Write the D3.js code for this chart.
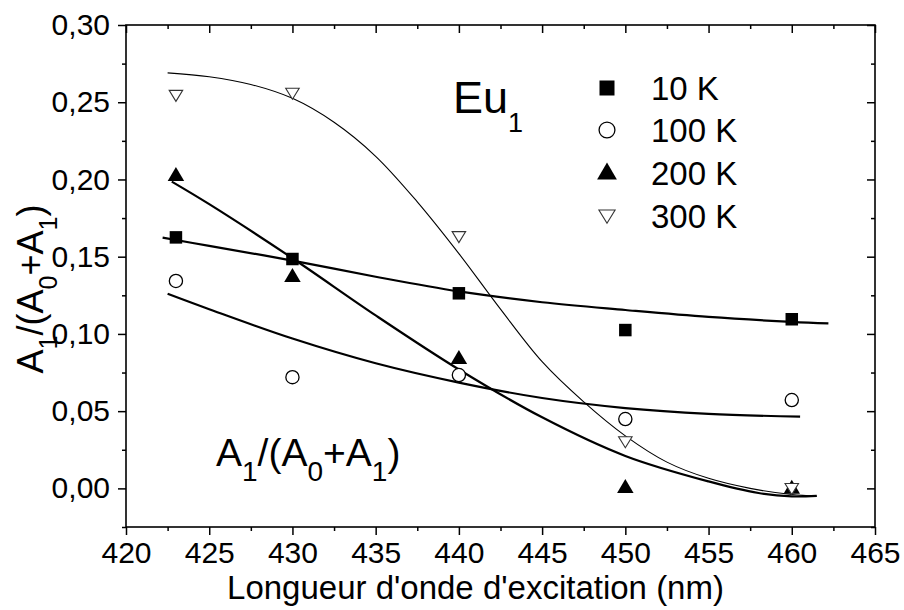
<!DOCTYPE html>
<html><head><meta charset="utf-8">
<script src="https://cdn.jsdelivr.net/npm/d3@7"></script>
<style>
body{margin:0;background:#fff}
text{font-family:"Liberation Sans",Arial,Helvetica,sans-serif;fill:#000}
</style>
</head><body>
<svg id="c" width="904" height="610"></svg>
<script>
// ---- data ----
const wavelengths = [423, 430, 440, 450, 460];
const v10K  = [0.1625, 0.1485, 0.1263, 0.1025, 0.1095];
const v100K = [0.1343, 0.0720, 0.0734, 0.0449, 0.0572];
const v200K = [0.2025, 0.1370, 0.0840, 0.0005, 0.0000];
const v300K = [0.2545, 0.2558, 0.1630, 0.0302, 0.0000];

// fitted curves
const fit10K_x  = [422.2, 425, 430, 435, 440, 445, 450, 455, 460, 462.2];
const fit10K_y  = [0.1623, 0.157, 0.1475, 0.137, 0.1275, 0.1205, 0.1155, 0.111, 0.1078, 0.1068];
const fit100K_x = [422.5, 425, 430, 435, 440, 445, 450, 455, 460.5];
const fit100K_y = [0.126, 0.116, 0.097, 0.081, 0.0685, 0.0585, 0.052, 0.0483, 0.0464];
const fit200K_x = [422.75, 425, 430, 435, 440, 445, 450, 455, 458, 460, 461.5];
const fit200K_y = [0.1986, 0.184, 0.149, 0.112, 0.077, 0.046, 0.021, 0.0045, -0.003, -0.0052, -0.0048];
const fit300K_x = [422.5, 425, 427.5, 430, 432.5, 435, 437.5, 440, 442.5, 445, 447.5, 450, 452.5, 455, 457.5, 460, 461.5];
const fit300K_y = [0.269, 0.2665, 0.2615, 0.2525, 0.237, 0.215, 0.1855, 0.152, 0.116, 0.082, 0.056, 0.034, 0.017, 0.0065, 0.0, -0.004, -0.005];

const seriesNames = ["10 K", "100 K", "200 K", "300 K"];
const xTicks = [420, 425, 430, 435, 440, 445, 450, 455, 460, 465];
const xMinor = [422.5, 427.5, 432.5, 437.5, 442.5, 447.5, 452.5, 457.5, 462.5];
const yTicks = [0.00, 0.05, 0.10, 0.15, 0.20, 0.25, 0.30];
const yMinor = [-0.025, 0.025, 0.075, 0.125, 0.175, 0.225, 0.275];
const xTitle = "Longueur d'onde d'excitation (nm)";

// ---- drawing ----
const svg = d3.select("#c");
const L = 126, R = 875, T = 25, B = 527;
const x = d3.scaleLinear().domain([420, 465]).range([L, R]);
const y = d3.scaleLinear().domain([-0.025, 0.30]).range([B, T]);

const fmtY = d => d3.format(".2f")(d).replace(".", ",");

function styleAxis(g){
  g.attr("font-family", null).attr("font-size", null);
  g.select(".domain").remove();
  g.selectAll("line").attr("stroke","#000").attr("stroke-width",1.5);
  g.selectAll("text").style("font-size","30px").attr("fill","#000");
}
// bottom
svg.append("g").attr("transform",`translate(0,${B})`)
  .call(d3.axisBottom(x).tickValues(xTicks).tickSize(8).tickPadding(7).tickFormat(d=>d))
  .call(styleAxis);
svg.append("g").attr("transform",`translate(0,${B})`)
  .call(d3.axisBottom(x).tickValues(xMinor).tickSize(4).tickFormat(""))
  .call(styleAxis);
// top (inward)
svg.append("g").attr("transform",`translate(0,${T})`)
  .call(d3.axisTop(x).tickValues(xTicks).tickSize(-8).tickFormat(""))
  .call(styleAxis);
svg.append("g").attr("transform",`translate(0,${T})`)
  .call(d3.axisTop(x).tickValues(xMinor).tickSize(-4).tickFormat(""))
  .call(styleAxis);
// left
svg.append("g").attr("transform",`translate(${L},0)`)
  .call(d3.axisLeft(y).tickValues(yTicks).tickSize(8).tickPadding(8).tickFormat(fmtY))
  .call(styleAxis);
svg.append("g").attr("transform",`translate(${L},0)`)
  .call(d3.axisLeft(y).tickValues(yMinor).tickSize(4).tickFormat(""))
  .call(styleAxis);
// right (inward)
svg.append("g").attr("transform",`translate(${R},0)`)
  .call(d3.axisRight(y).tickValues(yTicks).tickSize(-8).tickFormat(""))
  .call(styleAxis);
svg.append("g").attr("transform",`translate(${R},0)`)
  .call(d3.axisRight(y).tickValues(yMinor).tickSize(-4).tickFormat(""))
  .call(styleAxis);

// frame
svg.append("rect").attr("x",L).attr("y",T).attr("width",R-L).attr("height",B-T)
  .attr("fill","none").attr("stroke","#000").attr("stroke-width",1.6);

// fit lines
const line = d3.line().x(d=>x(d[0])).y(d=>y(d[1])).curve(d3.curveCatmullRom.alpha(0.5));
const fits = [
  {xs:fit10K_x, ys:fit10K_y, w:2.2},
  {xs:fit100K_x, ys:fit100K_y, w:2.2},
  {xs:fit200K_x, ys:fit200K_y, w:2.2},
  {xs:fit300K_x, ys:fit300K_y, w:1.1}
];
fits.forEach(f=>{
  svg.append("path").datum(f.xs.map((v,i)=>[v,f.ys[i]]))
    .attr("d",line).attr("fill","none").attr("stroke","#000").attr("stroke-width",f.w);
});

// marker shapes
function marker(g, k, cx, cy, s){
  s = s || 1;
  if(k===0){
    const a = 12.5*s;
    g.append("rect").attr("x",cx-a/2).attr("y",cy-a/2).attr("width",a).attr("height",a).attr("fill","#000");
  } else if(k===1){
    g.append("circle").attr("cx",cx).attr("cy",cy).attr("r",6.6*s)
      .attr("fill","#fff").attr("stroke","#000").attr("stroke-width",1.3);
  } else if(k===2){
    const w = 16.5*s, h = 14*s;
    g.append("path").attr("d",`M${cx},${cy-h*0.62}L${cx+w/2},${cy+h*0.38}L${cx-w/2},${cy+h*0.38}Z`).attr("fill","#000");
  } else {
    const w = 13.5*s, h = 11*s;
    g.append("path").attr("d",`M${cx-w/2},${cy-h*0.45}L${cx+w/2},${cy-h*0.45}L${cx},${cy+h*0.55}Z`)
      .attr("fill","#fff").attr("stroke","#333").attr("stroke-width",1.1);
  }
}
const allSeries = [v10K, v100K, v200K, v300K];
const mg = svg.append("g");
allSeries.forEach((vals,k)=>{
  vals.forEach((v,i)=> marker(mg, k, x(wavelengths[i]), y(v)));
});

// legend
const lg = svg.append("g");
const legY = [88, 130, 173, 216];
seriesNames.forEach((n,k)=>{
  marker(lg, k, 607, legY[k], 1.2);
  lg.append("text").attr("x",651).attr("y",legY[k]).attr("dy","0.36em")
    .style("font-size","33px").text(n);
});

// annotations
const eu = svg.append("text").attr("x",453).attr("y",113).style("font-size","45px");
eu.append("tspan").text("Eu");
eu.append("tspan").attr("dy",19).style("font-size","27px").text("1");

function ratioLabel(sel, big, small, shift){
  sel.append("tspan").style("font-size",big+"px").text("A");
  sel.append("tspan").attr("dy",shift).style("font-size",small+"px").text("1");
  sel.append("tspan").attr("dy",-shift).style("font-size",big+"px").text("/(A");
  sel.append("tspan").attr("dy",shift).style("font-size",small+"px").text("0");
  sel.append("tspan").attr("dy",-shift).style("font-size",big+"px").text("+A");
  sel.append("tspan").attr("dy",shift).style("font-size",small+"px").text("1");
  sel.append("tspan").attr("dy",-shift).style("font-size",big+"px").text(")");
}
ratioLabel(svg.append("text").attr("x",216).attr("y",466), 39, 28, 15);

// axis titles
svg.append("text").attr("x",(L+R)/2 - 25).attr("y",599).attr("text-anchor","middle")
  .style("font-size","33px").text(xTitle);
ratioLabel(svg.append("text").attr("transform","translate(43,289) rotate(-90)")
  .attr("text-anchor","middle"), 36, 25, 14);
</script>
</body></html>
